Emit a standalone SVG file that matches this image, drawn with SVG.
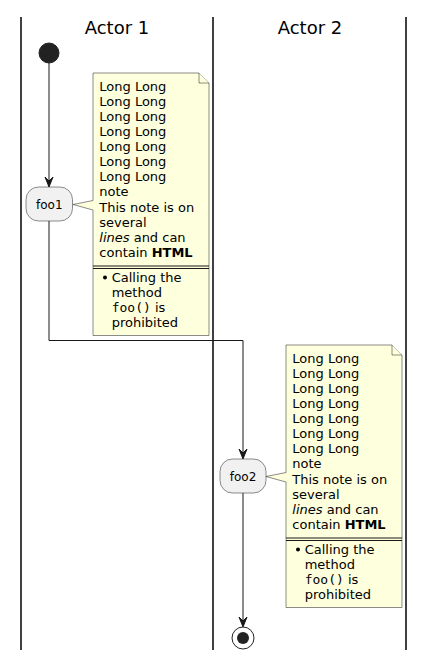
<svg xmlns="http://www.w3.org/2000/svg" width="434" height="669" viewBox="0 0 434 669">
<style>
.lane{stroke:#000;stroke-width:1.5;}
.title{font-family:"DejaVu Sans",sans-serif;font-size:18px;fill:#000;text-anchor:middle;}
.act{fill:#F1F1F1;stroke:#181818;stroke-width:0.5;}
.albl{font-family:"DejaVu Sans",sans-serif;font-size:12px;fill:#000;text-anchor:middle;}
.note{fill:#FEFFDD;stroke:#181818;stroke-width:0.5;}
.nt{font-family:"DejaVu Sans",sans-serif;font-size:13px;fill:#000;}
.mono{font-family:"DejaVu Sans Mono",monospace;}
.edge{fill:none;stroke:#181818;stroke-width:1;}
.head{fill:#181818;stroke:#181818;stroke-width:1;}
</style>
<rect width="434" height="669" fill="#fff"/>
<g id="lanes">
<line class="lane" x1="21" y1="17" x2="21" y2="650"/>
<line class="lane" x1="213" y1="17" x2="213" y2="650"/>
<line class="lane" x1="406" y1="17" x2="406" y2="650"/>
<text class="title" x="117" y="33.5">Actor 1</text>
<text class="title" x="310" y="33.5">Actor 2</text>
</g>
<g id="connectors">
<path class="edge" d="M49,63 L49,185"/>
<polygon class="head" points="45,177 49,187 53,177 49,181"/>
<path class="edge" d="M49,221 L49,340.5 L243,340.5 L243,457"/>
<polygon class="head" points="239,449 243,459 247,449 243,453"/>
<path class="edge" d="M243,493 L243,625"/>
<polygon class="head" points="239,617 243,627 247,617 243,621"/>
</g>
<g id="start">
<circle cx="49" cy="53" r="10" fill="#222222" stroke="#222222" stroke-width="1"/>
</g>
<g id="foo1">
<rect class="act" x="26" y="187" width="46.5" height="34" rx="12.5"/>
<text class="albl" x="49.3" y="208.5">foo1</text>
</g>
<g id="note1">
<path class="note" d="M93,73 L199,73 L209,83 L209,335.5 L93,335.5 L93,210 L73,204.5 L93,200.5 Z"/>
<path class="note" d="M199,73 L199,83 L209,83"/>
<line x1="93" y1="266" x2="209" y2="266" stroke="#181818" stroke-width="1"/>
<line x1="93" y1="268.5" x2="209" y2="268.5" stroke="#181818" stroke-width="1"/>
<text class="nt" x="99.3" y="90.7">Long Long</text>
<text class="nt" x="99.3" y="105.8">Long Long</text>
<text class="nt" x="99.3" y="120.9">Long Long</text>
<text class="nt" x="99.3" y="136">Long Long</text>
<text class="nt" x="99.3" y="151.1">Long Long</text>
<text class="nt" x="99.3" y="166.2">Long Long</text>
<text class="nt" x="99.3" y="181.3">Long Long</text>
<text class="nt" x="99.3" y="196.4">note</text>
<text class="nt" x="99.3" y="211.5">This note is on</text>
<text class="nt" x="99.3" y="226.6">several</text>
<text class="nt" x="99.3" y="241.7"><tspan font-style="italic">lines</tspan> and can</text>
<text class="nt" x="99.3" y="256.8">contain <tspan font-weight="bold">HTML</tspan></text>
<circle cx="105" cy="277.5" r="2" fill="#000"/>
<text class="nt" x="111.7" y="281.7">Calling the</text>
<text class="nt" x="111.7" y="297">method</text>
<text class="nt" x="111.7" y="312.3"><tspan class="mono">foo()</tspan> is</text>
<text class="nt" x="111.7" y="327.4">prohibited</text>
</g>
<g id="foo2">
<rect class="act" x="220" y="459" width="46" height="34" rx="12.5"/>
<text class="albl" x="243" y="480.5">foo2</text>
</g>
<g id="note2">
<path class="note" d="M286,345 L392,345 L402,355 L402,607.5 L286,607.5 L286,482 L266,476.5 L286,472.5 Z"/>
<path class="note" d="M392,345 L392,355 L402,355"/>
<line x1="286" y1="538" x2="402" y2="538" stroke="#181818" stroke-width="1"/>
<line x1="286" y1="540.5" x2="402" y2="540.5" stroke="#181818" stroke-width="1"/>
<text class="nt" x="292.3" y="362.7">Long Long</text>
<text class="nt" x="292.3" y="377.8">Long Long</text>
<text class="nt" x="292.3" y="392.9">Long Long</text>
<text class="nt" x="292.3" y="408">Long Long</text>
<text class="nt" x="292.3" y="423.1">Long Long</text>
<text class="nt" x="292.3" y="438.2">Long Long</text>
<text class="nt" x="292.3" y="453.3">Long Long</text>
<text class="nt" x="292.3" y="468.4">note</text>
<text class="nt" x="292.3" y="483.5">This note is on</text>
<text class="nt" x="292.3" y="498.6">several</text>
<text class="nt" x="292.3" y="513.7"><tspan font-style="italic">lines</tspan> and can</text>
<text class="nt" x="292.3" y="528.8">contain <tspan font-weight="bold">HTML</tspan></text>
<circle cx="298" cy="549.5" r="2" fill="#000"/>
<text class="nt" x="304.7" y="553.7">Calling the</text>
<text class="nt" x="304.7" y="569">method</text>
<text class="nt" x="304.7" y="584.3"><tspan class="mono">foo()</tspan> is</text>
<text class="nt" x="304.7" y="599.4">prohibited</text>
</g>
<g id="end">
<circle cx="243" cy="638" r="11" fill="none" stroke="#222222" stroke-width="1"/>
<circle cx="243" cy="638" r="6" fill="#222222"/>
</g>
</svg>
